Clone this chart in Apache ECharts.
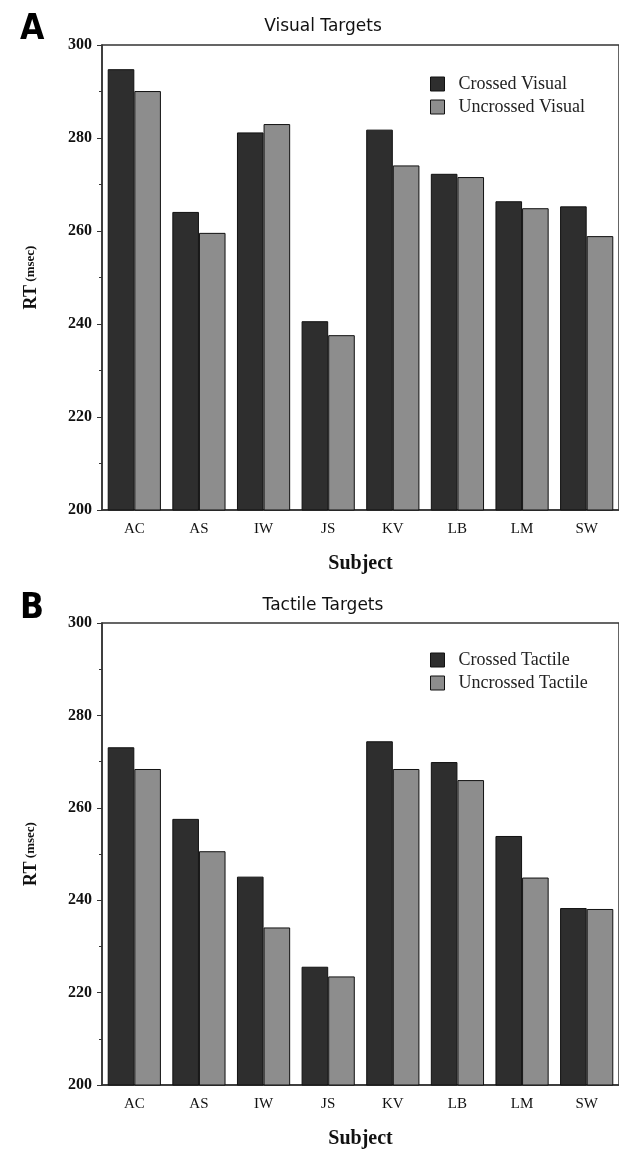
<!DOCTYPE html>
<html>
<head>
<meta charset="utf-8">
<script src="https://cdn.jsdelivr.net/npm/echarts@6/dist/echarts.min.js"></script>
<style>
  html, body { margin: 0; padding: 0; background: #fff; }
  #chart { width: 619px; height: 1150px; }
</style>
</head>
<body>
<div id="chart"></div>
<script>
// subjects and mean RTs (msec)
var subjects = ['AC', 'AS', 'IW', 'JS', 'KV', 'LB', 'LM', 'SW'];
var crossedVisual = [294.8, 264.1, 281.2, 240.6, 281.8, 272.3, 266.4, 265.3];
var uncrossedVisual = [290.1, 259.6, 283.0, 237.6, 274.1, 271.6, 264.9, 258.9];
var crossedTactile = [273.1, 257.6, 245.1, 225.6, 274.4, 269.9, 253.9, 238.3];
var uncrossedTactile = [268.4, 250.6, 234.1, 223.5, 268.4, 266.0, 244.9, 238.1];

var serif = '"Liberation Serif", "DejaVu Serif", serif';
var sans = '"DejaVu Sans", Verdana, sans-serif';
var darkFill = '#2e2e2e';
var lightFill = '#8d8d8d';

function xAxisFor(idx) {
  return {
    type: 'category', gridIndex: idx,
    data: subjects,
    name: 'Subject',
    nameLocation: 'middle',
    nameGap: 44,
    nameTextStyle: { fontFamily: serif, fontWeight: 'bold', fontSize: 20, color: '#111' },
    axisLine: { lineStyle: { color: '#333', width: 1.5 } },
    axisTick: { alignWithLabel: true, length: 6, lineStyle: { color: '#333' } },
    axisLabel: { fontFamily: serif, fontSize: 15, color: '#111', margin: 12 }
  };
}

function yAxisFor(idx) {
  return {
    type: 'value', gridIndex: idx,
    min: 200, max: 300, interval: 20,
    name: '{big|RT} {small|(msec)}',
    nameLocation: 'middle',
    nameGap: 62,
    nameTextStyle: {
      rich: {
        big: { fontFamily: serif, fontWeight: 'bold', fontSize: 18, color: '#111' },
        small: { fontFamily: serif, fontWeight: 'bold', fontSize: 13, color: '#111' }
      }
    },
    splitLine: { show: false },
    axisLine: { show: true, lineStyle: { color: '#333', width: 1.5 } },
    axisTick: { show: true, length: 5, lineStyle: { color: '#333' } },
    minorTick: { show: true, splitNumber: 2, length: 3, lineStyle: { color: '#333' } },
    axisLabel: { fontFamily: serif, fontWeight: 'bold', fontSize: 16, color: '#111', margin: 10 }
  };
}

function barSeries(name, data, fill, idx) {
  return {
    type: 'bar', name: name, data: data,
    xAxisIndex: idx, yAxisIndex: idx,
    barWidth: 26.6, barGap: '0%',
    itemStyle: { color: fill, borderColor: '#111', borderWidth: 1 }
  };
}

function legendFor(names, top) {
  return {
    data: names,
    left: 430, top: top,
    padding: 0,
    orient: 'vertical',
    icon: 'rect',
    itemWidth: 14, itemHeight: 14, itemGap: 5,
    itemStyle: { borderColor: '#111', borderWidth: 1 },
    textStyle: { fontFamily: serif, fontSize: 18, color: '#222', padding: [0, 0, 0, 9] }
  };
}

var chart = echarts.init(document.getElementById('chart'));
chart.setOption({
  backgroundColor: '#fff',
  animation: false,
  title: [
    { text: 'Visual Targets', left: 318, top: 13, textAlign: 'center',
      textStyle: { fontFamily: sans, fontWeight: 'normal', fontSize: 17, color: '#111' } },
    { text: 'Tactile Targets', left: 318, top: 592, textAlign: 'center',
      textStyle: { fontFamily: sans, fontWeight: 'normal', fontSize: 17, color: '#111' } },
    { text: 'A', left: 15, top: 7,
      textStyle: { fontFamily: '"DejaVu Sans Condensed", "DejaVu Sans", sans-serif', fontWeight: 'bold', fontSize: 35, color: '#000' } },
    { text: 'B', left: 15, top: 586,
      textStyle: { fontFamily: '"DejaVu Sans Condensed", "DejaVu Sans", sans-serif', fontWeight: 'bold', fontSize: 35, color: '#000' } }
  ],
  legend: [
    legendFor(['Crossed Visual', 'Uncrossed Visual'], 75),
    legendFor(['Crossed Tactile', 'Uncrossed Tactile'], 651)
  ],
  grid: [
    { left: 102, top: 45, width: 518, height: 465, show: true, borderColor: '#333', borderWidth: 1.5 },
    { left: 102, top: 623, width: 518, height: 465, show: true, borderColor: '#333', borderWidth: 1.5 }
  ],
  xAxis: [xAxisFor(0), xAxisFor(1)],
  yAxis: [yAxisFor(0), yAxisFor(1)],
  series: [
    barSeries('Crossed Visual', crossedVisual, darkFill, 0),
    barSeries('Uncrossed Visual', uncrossedVisual, lightFill, 0),
    barSeries('Crossed Tactile', crossedTactile, darkFill, 1),
    barSeries('Uncrossed Tactile', uncrossedTactile, lightFill, 1)
  ]
});
</script>
</body>
</html>
